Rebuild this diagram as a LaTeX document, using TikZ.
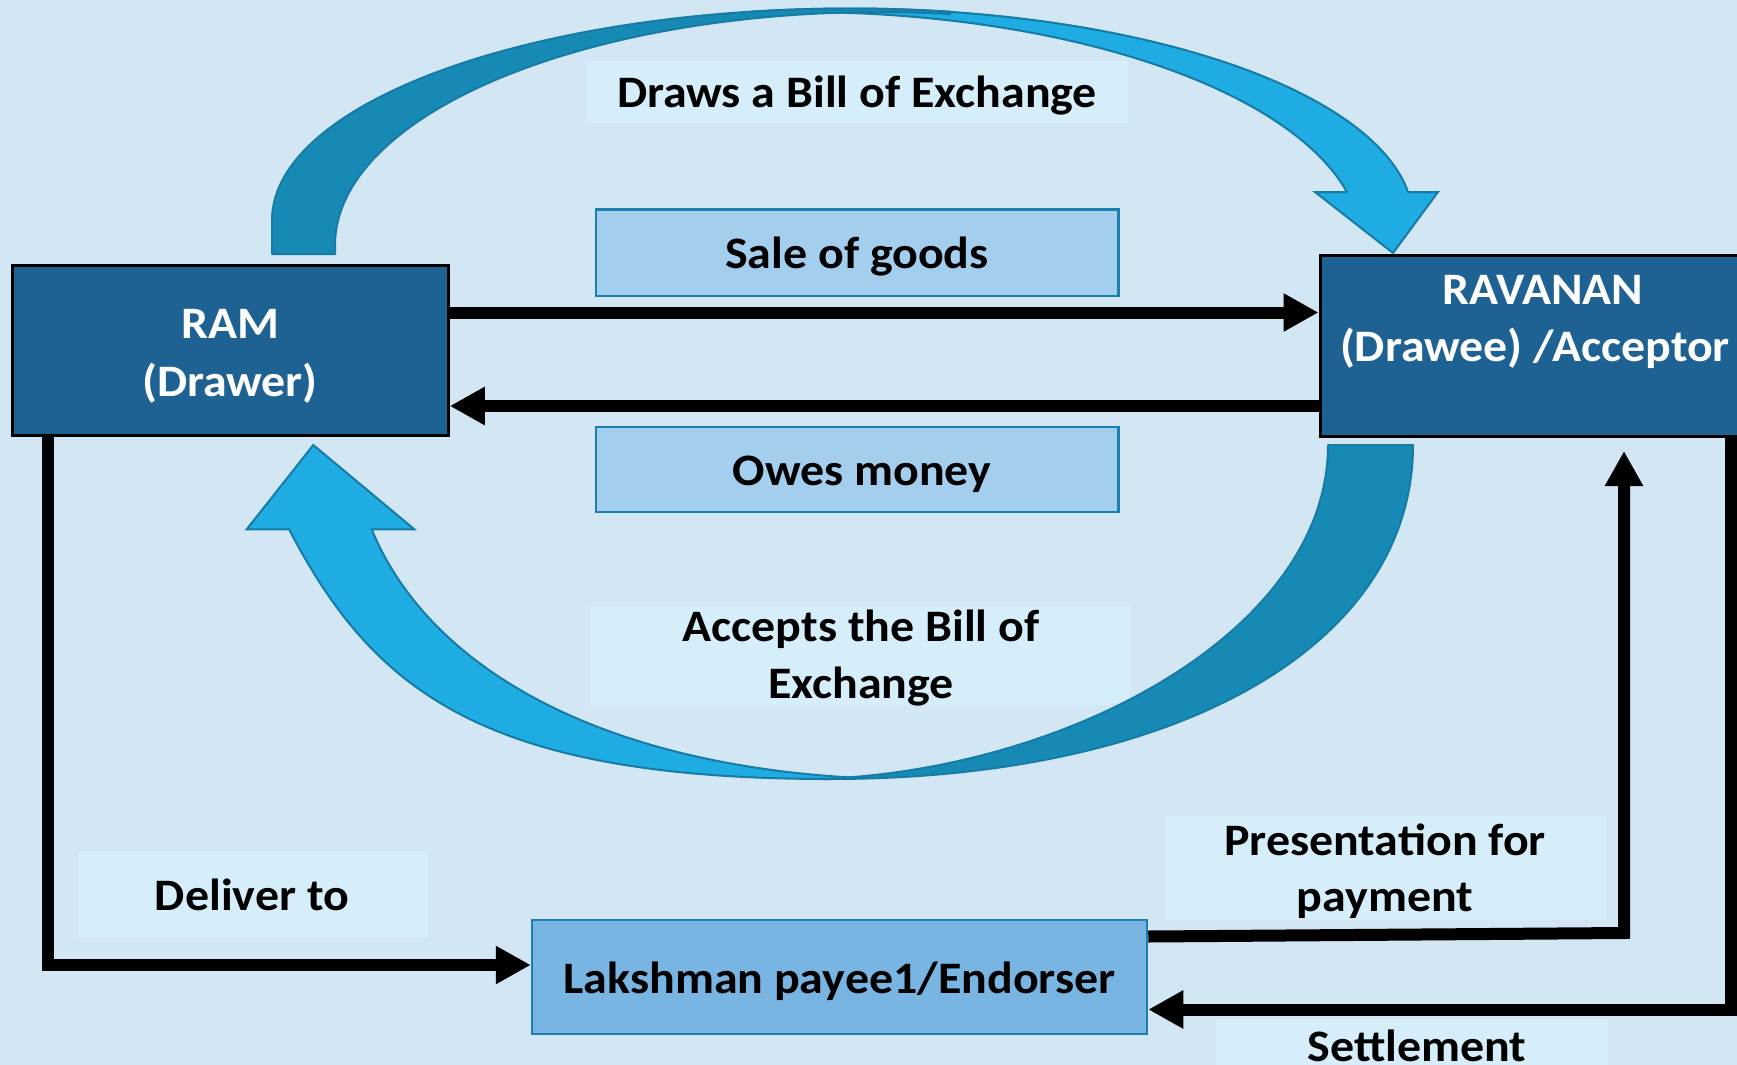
\documentclass[tikz,border=0pt]{standalone}
\usepackage{fontspec}
\setmainfont{Carlito}[FakeStretch=1.065]
\usetikzlibrary{arrows.meta}

\definecolor{bgblue}{RGB}{210,230,244}
\definecolor{labelfill}{RGB}{213,238,250}
\definecolor{palefill}{RGB}{164,206,238}
\definecolor{midfill}{RGB}{121,181,226}
\definecolor{darkfill}{RGB}{30,97,147}
\definecolor{edgeblue}{RGB}{26,128,176}
\definecolor{arcdarkfill}{RGB}{23,137,181}
\definecolor{arclightfill}{RGB}{30,172,226}
\definecolor{arcedge}{RGB}{22,124,166}

\tikzset{
  darkbox/.style={draw=black, line width=3pt, fill=darkfill, inner sep=0pt},
  lightbox/.style={draw=edgeblue, line width=2.5pt, fill=palefill, inner sep=0pt},
  midbox/.style={draw=edgeblue, line width=2.5pt, fill=midfill, inner sep=0pt},
  tagbox/.style={fill=labelfill, inner sep=0pt},
  txt/.style={font=\fontsize{45}{57}\selectfont\bfseries, inner sep=0pt, anchor=base},
  conn/.style={line width=12pt, line join=miter, -{Triangle[length=35pt,width=36pt]}},
  arcdark/.style={fill=arcdarkfill, draw=arcedge, line width=2pt, line join=round},
  arclight/.style={fill=arclightfill, draw=arcedge, line width=2pt, line join=miter},
}

\begin{document}
\begin{tikzpicture}[x=1pt, y=-1pt]
\useasboundingbox (0,0) rectangle (1737,1065);
\fill[bgblue] (0,0) rectangle (1737,1065);

% caption panels
\node[tagbox, minimum width=540.7pt, minimum height=61.7pt] (drawstag) at (857.35,91.85) {};
\node[tagbox, minimum width=541pt, minimum height=99.3pt] (acceptstag) at (860.5,655.35) {};
\node[tagbox, minimum width=349.7pt, minimum height=86.7pt] (delivertag) at (252.85,894.35) {};
\node[tagbox, minimum width=441pt, minimum height=104pt] (presenttag) at (1385.5,868) {};
\node[tagbox, minimum width=392pt, minimum height=61pt] (settletag) at (1412,1049.5) {};

% upper curved arrow: RAM draws the bill on RAVANAN
\filldraw[arclight]
  plot[domain=100:7.6, samples=80] ({850+563*cos(\x)}, {220-211.5*sin(\x)})
  -- (1438,192) -- (1393,253) -- (1315,192) -- (1347,192)
  -- plot[domain=13.15:94.9, samples=80] ({800+561.7*cos(\x)}, {245-233*sin(\x)})
  -- cycle;
\filldraw[arcdark] (272,254)
  -- plot[domain=180:80, samples=80] ({850+578*cos(\x)}, {220-211.5*sin(\x)})
  -- plot[domain=82.6:180, samples=80] ({880+545*cos(\x)}, {245-233*sin(\x)})
  -- (335,254) -- cycle;

% lower curved arrow: RAVANAN accepts the bill
\filldraw[arclight] (860,778) .. controls (600,765) and (428.6,667.9) .. (371.7,529.3)
  -- (414.3,529.3) -- (313.3,445) -- (246.7,529.3) -- (289,529.3)
  .. controls (372.3,688.5) and (480,779) .. (830,779) -- cycle;
\filldraw[arcdark] (1413,445) .. controls (1413,645) and (1180,779) .. (830,779)
  -- (820,779) .. controls (1070,770) and (1328,630) .. (1328,445) -- cycle;

% parties and transactions
\node[darkbox, minimum width=435.7pt, minimum height=170pt] (ram) at (230.45,350.7) {};
\node[darkbox, minimum width=440pt, minimum height=181pt] (ravanan) at (1540,345.5) {};
\node[lightbox, minimum width=522.5pt, minimum height=86.7pt] (sale) at (857.25,252.65) {};
\node[lightbox, minimum width=522.5pt, minimum height=85pt] (owes) at (857.25,469.5) {};
\node[midbox, minimum width=615pt, minimum height=114pt] (lakshman) at (839.5,977) {};

% connector rails
\coordinate (saleY) at (0,312.5);
\coordinate (owesY) at (0,406);
\coordinate (deliverX) at (48,965);
\coordinate (presStart) at (0,936.5);
\coordinate (presCorner) at (1624,933);
\coordinate (presTip) at (1624,451);
\coordinate (settleX) at (1731,1009.5);

\draw[conn] (ram.east |- saleY) -- (ravanan.west |- saleY);
\draw[conn] (ravanan.west |- owesY) -- (ram.east |- owesY);
\draw[conn] (ram.south -| deliverX) |- (lakshman.west |- deliverX);
\draw[conn] (lakshman.east |- presStart) -- (presCorner) -- (presTip);
\draw[conn] (ravanan.south -| settleX) |- (lakshman.east |- settleX);

% texts
\node[txt] (drawstxt) at (857,107.3) {Draws a Bill of Exchange};
\node[txt] (saletxt) at (857,268.3) {Sale of goods};
\node[txt] (owestxt) at (862,485) {Owes money};
\node[txt, text=white] (ramtxtA) at (230,338) {RAM};
\node[txt, text=white] (ramtxtB) at (230,396.7) {(Drawer)};
\node[txt, text=white] (ravtxtA) at (1543,304.3) {RAVANAN};
\node[txt, text=white] (ravtxtB) at (1535,361.5) {(Drawee) /Acceptor};
\node[txt] (acctxtA) at (861,641.7) {Accepts the Bill of};
\node[txt] (acctxtB) at (861,698.3) {Exchange};
\node[txt] (delivtxt) at (252,910) {Deliver to};
\node[txt] (prestxtA) at (1385,855) {Presentation for};
\node[txt] (prestxtB) at (1385,911.7) {payment};
\node[txt] (laktxt) at (839.5,993.8) {Lakshman payee1/Endorser};
\node[txt] (settletxt) at (1417,1061) {Settlement};
\end{tikzpicture}
\end{document}
